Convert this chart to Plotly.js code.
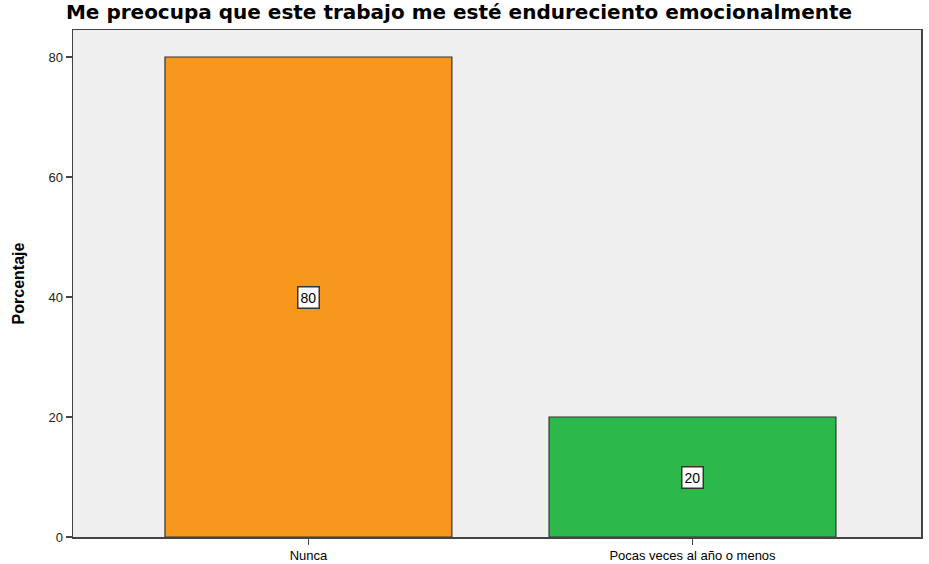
<!DOCTYPE html>
<html>
<head>
<meta charset="utf-8">
<script src="https://cdn.plot.ly/plotly-3.0.1.min.js"></script>
<style>html,body{margin:0;padding:0;background:#fff;}#chart{width:929px;height:564px;}</style>
</head>
<body>
<div id="chart"></div>
<script>
const categories = ["Nunca", "Pocas veces al año o menos"];
const values = [80, 20];
const barColors = ["#f7981d", "#2db84b"];
const yTicks = [0, 20, 40, 60, 80];

const trace = {
  type: "bar",
  x: categories,
  y: values,
  width: 0.747,
  marker: {color: barColors, line: {color: "#333333", width: 1.2}},
  hoverinfo: "none"
};

const annotations = categories.map((c, i) => ({
  x: c, y: values[i] / 2, xref: "x", yref: "y",
  text: String(values[i]), showarrow: false,
  font: {family: "Liberation Sans, Arial, sans-serif", size: 14, color: "#000"},
  bgcolor: "#ffffff", bordercolor: "#333333", borderwidth: 1.5, borderpad: 2
}));

const layout = {
  width: 929, height: 564,
  margin: {l: 73, r: 8, t: 30, b: 27},
  paper_bgcolor: "#ffffff",
  plot_bgcolor: "#efefef",
  showlegend: false,
  title: {
    text: "<b>Me preocupa que este trabajo me esté endureciento emocionalmente</b>",
    font: {family: "DejaVu Sans, sans-serif", size: 20, color: "#000"},
    x: 0.071, xanchor: "left", y: 0.992, yanchor: "top"
  },
  xaxis: {
    type: "category",
    range: [-0.613, 1.595],
    showgrid: false, zeroline: false,
    showline: true, linecolor: "#444444", linewidth: 1.5, mirror: true,
    ticks: "outside", ticklen: 6, tickcolor: "#444444", tickwidth: 1.5,
    tickfont: {family: "Liberation Sans, Arial, sans-serif", size: 13, color: "#000"}
  },
  yaxis: {
    range: [0, 84.5],
    tickvals: yTicks,
    ticktext: yTicks.map(String),
    showgrid: false, zeroline: false,
    showline: true, linecolor: "#444444", linewidth: 1.5, mirror: true,
    ticks: "outside", ticklen: 6, tickcolor: "#444444", tickwidth: 1.5,
    tickfont: {family: "Liberation Sans, Arial, sans-serif", size: 13, color: "#222"},
    title: {text: "<b>Porcentaje</b>", font: {family: "Liberation Sans, Arial, sans-serif", size: 16, color: "#000"}, standoff: 20}
  },
  annotations: annotations
};

Plotly.newPlot("chart", [trace], layout, {displayModeBar: false, staticPlot: true});
</script>
</body>
</html>
